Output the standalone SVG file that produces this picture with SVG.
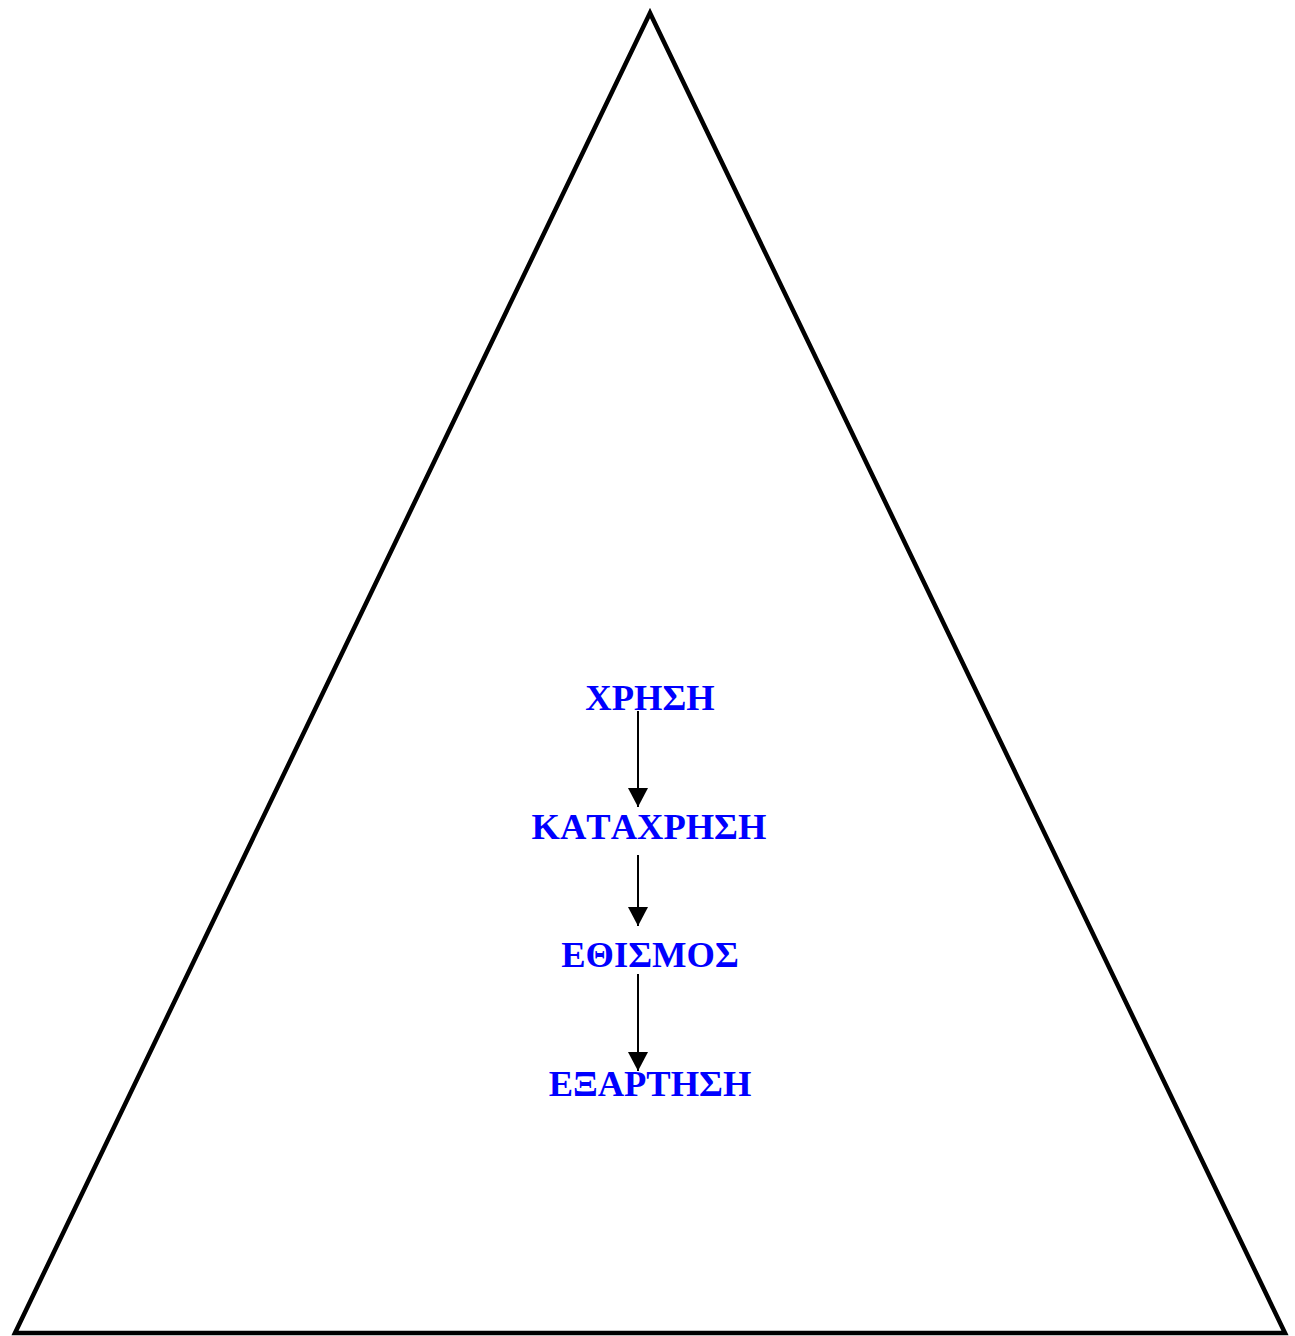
<svg xmlns="http://www.w3.org/2000/svg" width="1295" height="1336" viewBox="0 0 1295 1336">
<style>
.lbl{font-family:"Liberation Serif","Times New Roman",serif;font-weight:bold;font-size:36.5px;fill:#0000ff;text-anchor:middle;font-kerning:none}
.edge{stroke:#000;stroke-width:2;fill:none}
</style>
<defs>
<marker id="ah" markerUnits="userSpaceOnUse" markerWidth="22" markerHeight="20" refX="20" refY="10.5" orient="auto" viewBox="0 0 20 21">
<path d="M0,0 L20,10.5 L0,21 Z" fill="#000"/>
</marker>
</defs>
<rect width="1295" height="1336" fill="#fff"/>
<g id="triangle"><polygon points="650,13 15,1333 1285,1333" fill="none" stroke="#000" stroke-width="4.5"/></g>
<g id="connectors">
<line class="edge" x1="638" y1="711" x2="638" y2="807" marker-end="url(#ah)"/>
<line class="edge" x1="638" y1="855" x2="638" y2="926" marker-end="url(#ah)"/>
<line class="edge" x1="638" y1="974" x2="638" y2="1071" marker-end="url(#ah)"/>
</g>
<g id="n1"><text class="lbl" x="650" y="710">ΧΡΗΣΗ</text></g>
<g id="n2"><text class="lbl" x="649" y="839">ΚΑΤΑΧΡΗΣΗ</text></g>
<g id="n3"><text class="lbl" x="650" y="967">ΕΘΙΣΜΟΣ</text></g>
<g id="n4"><text class="lbl" x="650" y="1096">ΕΞΑΡΤΗΣΗ</text></g>
</svg>
